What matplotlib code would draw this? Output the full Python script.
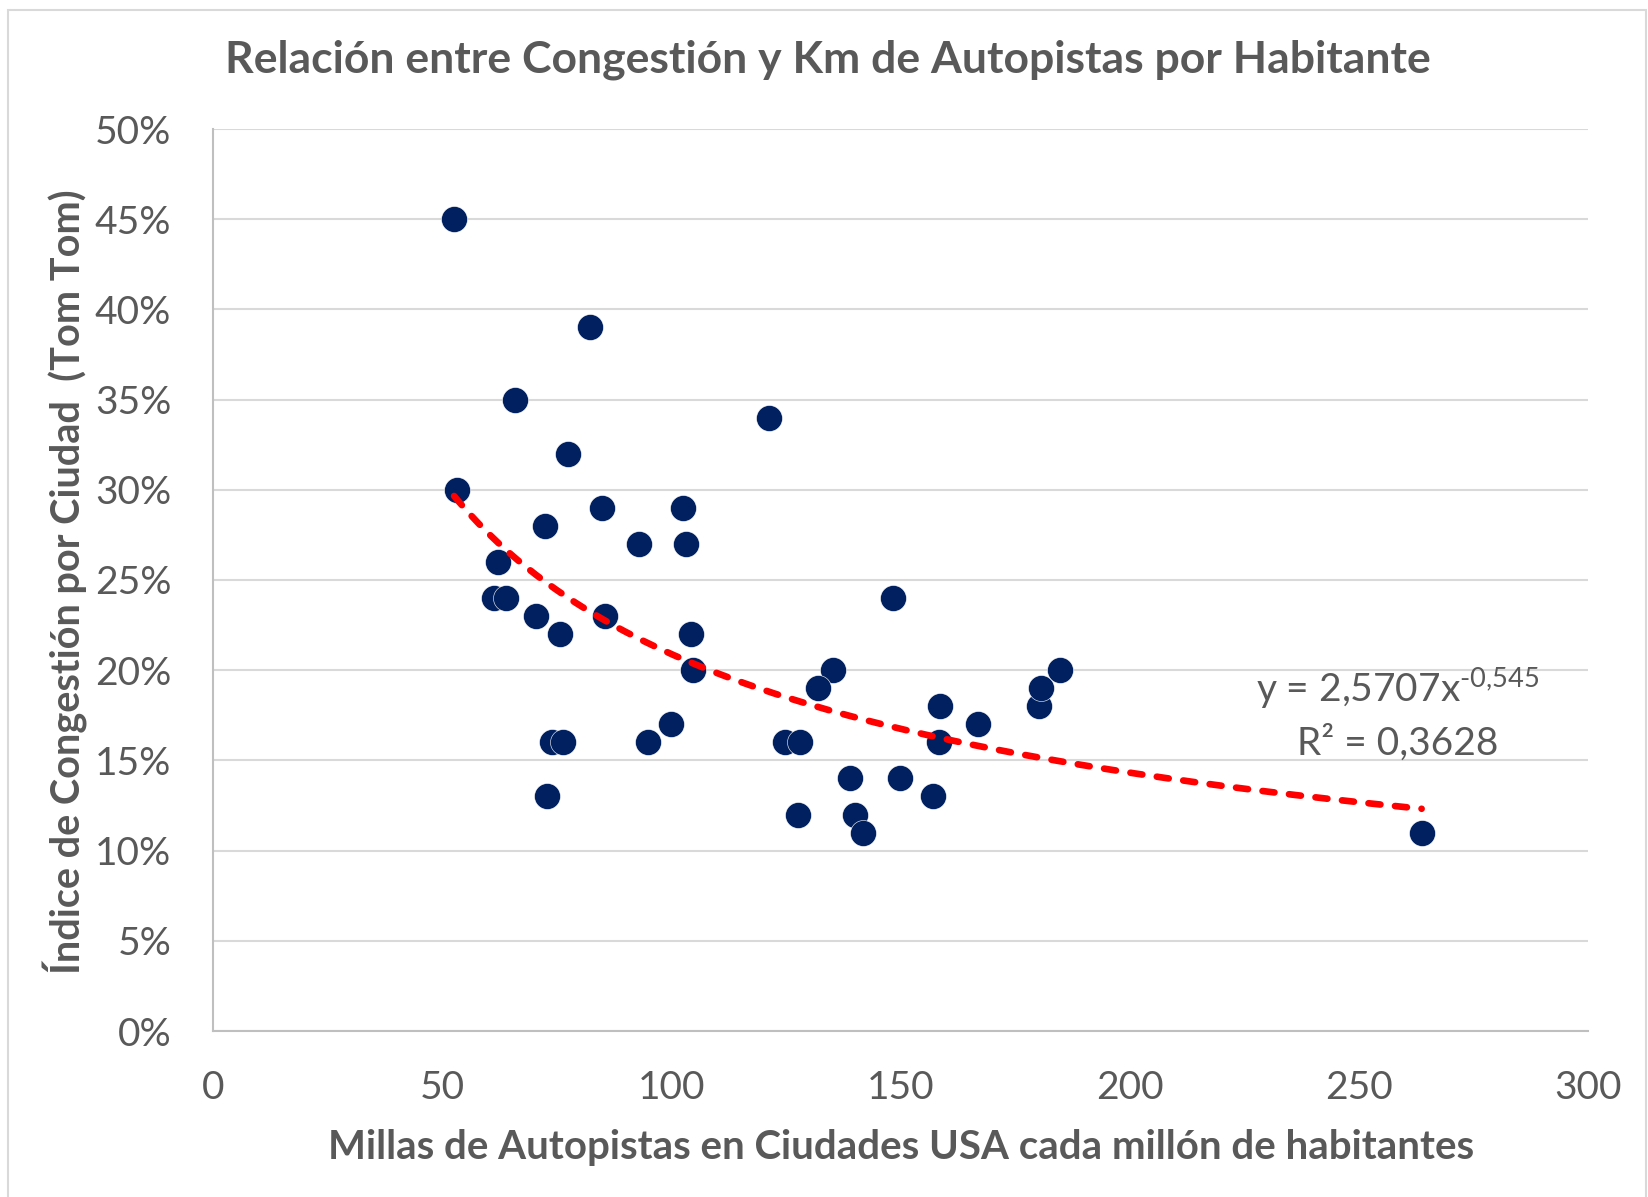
import matplotlib

matplotlib.use("Agg")
import matplotlib.pyplot as plt
import numpy as np
from matplotlib.patches import Rectangle
from matplotlib.ticker import MultipleLocator, PercentFormatter

# Millas de autopista por millón de habitantes y congestión TomTom por ciudad
MILLAS = [
    52.6, 53.3, 82.2, 65.9, 77.5, 84.8, 72.4, 93.0, 102.6, 103.1,
    62.1, 61.3, 63.9, 70.4, 85.5, 75.7, 104.2, 104.8, 121.2, 148.3,
    135.2, 132.1, 158.7, 167.0, 99.9, 94.8, 73.9, 76.4, 124.8, 128.1,
    158.3, 72.9, 138.9, 149.8, 157.0, 127.6, 140.1, 141.9, 263.7, 180.3,
    180.7, 184.9,
]
CONGESTION = [
    45, 30, 39, 35, 32, 29, 28, 27, 29, 27,
    26, 24, 24, 23, 23, 22, 22, 20, 34, 24,
    20, 19, 18, 17, 17, 16, 16, 16, 16, 16,
    16, 13, 14, 14, 13, 12, 12, 11, 11, 18,
    19, 20,
]

# Línea de tendencia potencial (según Excel)
COEF_A = 2.5707
COEF_B = -0.545
R2 = 0.3628

TITULO = "Relación entre Congestión y Km de Autopistas por Habitante"
ETIQUETA_X = "Millas de Autopistas en Ciudades USA cada millón de habitantes"
ETIQUETA_Y = "Índice de Congestión por Ciudad  (Tom Tom)"

GRIS_TEXTO = "#595959"
AZUL = "#002060"
FUENTE = ["Lato", "DejaVu Sans"]

plt.rcParams["font.family"] = FUENTE
plt.rcParams["mathtext.fontset"] = "custom"
plt.rcParams["mathtext.rm"] = "Lato"
plt.rcParams["mathtext.it"] = "Lato"

W, H = 1648, 1197
fig = plt.figure(figsize=(W / 100, H / 100), dpi=100)

# borde del gráfico
fig.patches.append(
    Rectangle((8 / W, -0.01), (1646 - 8) / W, 1 - 10 / H + 0.01,
              transform=fig.transFigure, fill=False, edgecolor="#D9D9D9",
              linewidth=1.5)
)

ax = fig.add_axes([213 / W, 1 - 1031 / H, (1588 - 213) / W, (1031 - 129) / H])

x = np.array(MILLAS)
y = np.array(CONGESTION) / 100.0

ax.scatter(x, y, s=350, color=AZUL, edgecolors="white", linewidths=0.4, zorder=3)

xt = np.linspace(x.min(), x.max(), 200)
ax.plot(xt, COEF_A * xt ** COEF_B, color="#FF0000", linewidth=4.8,
        dashes=(1.8, 2.2), dash_capstyle="round", zorder=4)

ax.set_xlim(0, 300)
ax.set_ylim(0, 0.5)
ax.xaxis.set_major_locator(MultipleLocator(50))
ax.yaxis.set_major_locator(MultipleLocator(0.05))
ax.yaxis.set_major_formatter(PercentFormatter(1.0, decimals=0))
ax.grid(axis="y", color="#D9D9D9", linewidth=1.5)
ax.set_axisbelow(True)

for s in ["top", "right"]:
    ax.spines[s].set_visible(False)
for s in ["left", "bottom"]:
    ax.spines[s].set_color("#BFBFBF")
    ax.spines[s].set_linewidth(1.5)

ax.tick_params(length=0, labelsize=28, labelcolor=GRIS_TEXTO)
ax.tick_params(axis="x", pad=28)
ax.tick_params(axis="y", pad=30)

fig.text(828 / W, 1 - 60 / H, TITULO, ha="center", va="center",
         fontsize=32, fontweight="bold", color=GRIS_TEXTO)
fig.text(901 / W, 1 - 1147 / H, ETIQUETA_X, ha="center", va="center",
         fontsize=29, fontweight="bold", color=GRIS_TEXTO)
fig.text(66 / W, 1 - 582 / H, ETIQUETA_Y, ha="center", va="center",
         rotation=90, fontsize=28.5, fontweight="bold", color=GRIS_TEXTO)

a_txt = f"{COEF_A:.4f}".replace(".", ",")
b_txt = f"{COEF_B:.3f}".replace(".", ",")
ecuacion = f"y = {a_txt}x" + "$^{\\text{" + b_txt + "}}$"
fig.text(1398 / W, 1 - 688 / H, ecuacion, ha="center", va="center",
         fontsize=28, color=GRIS_TEXTO)
fig.text(1398 / W, 1 - 743 / H, f"R² = {R2:.4f}".replace(".", ","),
         ha="center", va="center", fontsize=28, color=GRIS_TEXTO)

fig.savefig("out.png", dpi=100)
